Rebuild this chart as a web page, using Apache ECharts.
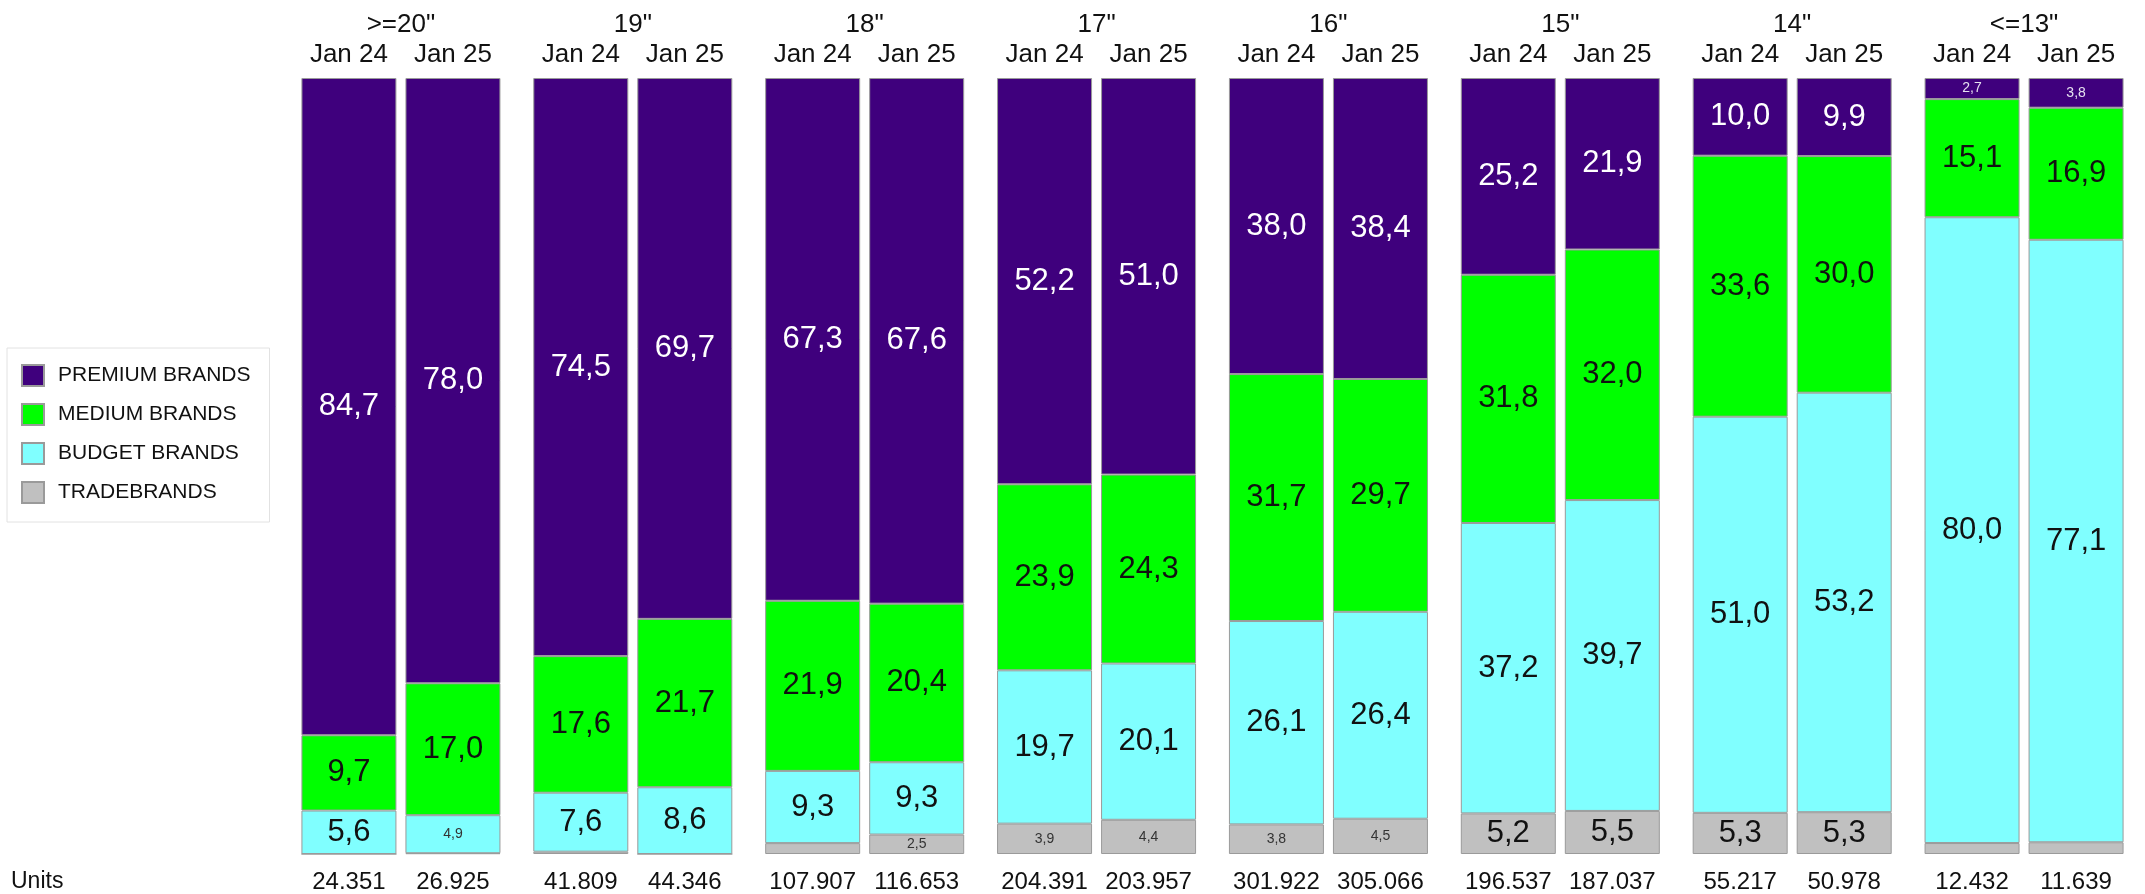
<!DOCTYPE html>
<html>
<head>
<meta charset="utf-8">
<script src="https://cdn.jsdelivr.net/npm/echarts@6/dist/echarts.min.js"></script>
<style>
html, body { margin: 0; padding: 0; background: #fff; }
#main { width: 2145px; height: 894px; }
</style>
</head>
<body>
<div id="main"></div>
<script>
var sizes = ['>=20"', '19"', '18"', '17"', '16"', '15"', '14"', '<=13"'];
var periods = ['Jan 24', 'Jan 25'];
var segments = ['PREMIUM BRANDS', 'MEDIUM BRANDS', 'BUDGET BRANDS', 'TRADEBRANDS'];

// share in %, Jan 24
var premium24 = [84.7, 74.5, 67.3, 52.2, 38.0, 25.2, 10.0, 2.7];
var medium24  = [9.7, 17.6, 21.9, 23.9, 31.7, 31.8, 33.6, 15.1];
var budget24  = [5.6, 7.6, 9.3, 19.7, 26.1, 37.2, 51.0, 80.0];
var trade24   = [0, 0.3, 1.4, 3.9, 3.8, 5.2, 5.3, 1.4];
// share in %, Jan 25
var premium25 = [78.0, 69.7, 67.6, 51.0, 38.4, 21.9, 9.9, 3.8];
var medium25  = [17.0, 21.7, 20.4, 24.3, 29.7, 32.0, 30.0, 16.9];
var budget25  = [4.9, 8.6, 9.3, 20.1, 26.4, 39.7, 53.2, 77.1];
var trade25   = [0.1, 0, 2.5, 4.4, 4.5, 5.5, 5.3, 1.5];

var units24 = [24351, 41809, 107907, 204391, 301922, 196537, 55217, 12432];
var units25 = [26925, 44346, 116653, 203957, 305066, 187037, 50978, 11639];

var colors = ['#3f007d', '#00ff00', '#80ffff', '#c0c0c0'];
var font = "'Liberation Sans', Arial, sans-serif";

var chart = echarts.init(document.getElementById('main'));

function fmtUnits(n) {
    var s = String(n);
    return s.replace(/\B(?=(\d{3})+(?!\d))/g, '.');
}

// raw values per period, in segment order (premium .. trade)
var rawByPeriod = [
    [premium24, medium24, budget24, trade24],
    [premium25, medium25, budget25, trade25]
];

var series = [];
rawByPeriod.forEach(function (raw, p) {
    // totals so each bar fills the full height
    var totals = sizes.map(function (s, i) {
        return raw[0][i] + raw[1][i] + raw[2][i] + raw[3][i];
    });
    // stack from the bottom: trade first
    for (var k = 3; k >= 0; k--) {
        (function (k) {
            var vals = raw[k];
            series.push({
                name: segments[k],
                type: 'bar',
                stack: periods[p],
                barWidth: 95,
                barGap: '9.5%',
                data: vals.map(function (v, i) { return v / totals[i] * 100; }),
                itemStyle: {
                    color: colors[k],
                    borderColor: '#9a9a9a',
                    borderWidth: 1
                },
                label: {
                    show: true,
                    position: 'inside',
                    fontFamily: font,
                    formatter: function (params) {
                        var v = vals[params.dataIndex];
                        if (v < 2) return '';
                        var txt = v.toFixed(1).replace('.', ',');
                        return v < 5 ? '{s|' + txt + '}' : '{b|' + txt + '}';
                    },
                    rich: {
                        b: {
                            fontSize: 31,
                            fontFamily: font,
                            color: k === 0 ? '#ffffff' : '#111111'
                        },
                        s: {
                            fontSize: 14,
                            fontFamily: font,
                            color: k === 0 ? '#e6e0f0' : '#333333'
                        }
                    }
                }
            });
        })(k);
    }
});

var option = {
    backgroundColor: '#ffffff',
    animation: false,
    textStyle: { fontFamily: font },
    legend: {
        orient: 'vertical',
        left: 7,
        top: 348,
        data: segments,
        icon: 'rect',
        itemWidth: 22,
        itemHeight: 21,
        itemGap: 16,
        padding: [16, 19, 18, 14],
        borderColor: '#e2e2e2',
        borderWidth: 1,
        textStyle: {
            fontSize: 21,
            lineHeight: 21,
            color: '#111',
            fontFamily: font,
            padding: [0, 0, 0, 9]
        }
    },
    grid: {
        left: 285,
        top: 78,
        width: 1855,
        height: 778
    },
    xAxis: [{
        type: 'category',
        data: sizes,
        position: 'top',
        axisLine: { show: false },
        axisTick: { show: false },
        axisLabel: {
            interval: 0,
            margin: 8,
            formatter: function (v) {
                return '{g|' + v + '}\n{d|' + periods[0] + '}{d|' + periods[1] + '}';
            },
            rich: {
                g: { fontSize: 26, lineHeight: 30, width: 208, align: 'center', color: '#111', fontFamily: font },
                d: { fontSize: 26, lineHeight: 30, width: 104, align: 'center', color: '#111', fontFamily: font }
            }
        }
    }, {
        type: 'category',
        data: sizes,
        position: 'bottom',
        axisLine: { show: false },
        axisTick: { show: false },
        axisLabel: {
            interval: 0,
            margin: 14,
            formatter: function (v, i) {
                return '{d|' + fmtUnits(units24[i]) + '}{d|' + fmtUnits(units25[i]) + '}';
            },
            rich: {
                d: { fontSize: 24, lineHeight: 28, width: 104, align: 'center', color: '#111', fontFamily: font }
            }
        }
    }],
    yAxis: {
        type: 'value',
        min: 0,
        max: 100,
        show: false
    },
    graphic: [{
        type: 'text',
        left: 11,
        top: 870,
        style: {
            text: 'Units',
            fontSize: 23,
            fontFamily: font,
            fill: '#111'
        }
    }],
    series: series
};

chart.setOption(option);
</script>
</body>
</html>
